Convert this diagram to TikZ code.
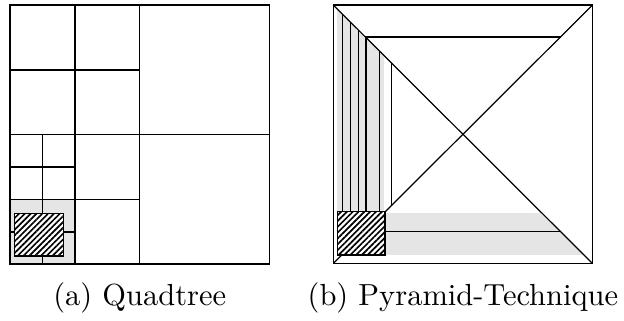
\documentclass[tikz,border=0pt]{standalone}
\usepackage{amsmath}
\usepackage{tikz}
\usetikzlibrary{patterns.meta}

\begin{document}
\begin{tikzpicture}[x=0.328pt,y=-0.328pt,
            region/.style={fill=gray!20},
            query/.style={draw,fill=white,postaction={pattern={Lines[angle=45,distance=1.35pt,line width=0.55pt]}}}]
            \useasboundingbox (0,0) rectangle (624,320);
            % quadtree
            \fill[region] (10,199.75) rectangle (74.9,264);
            \draw (10,5) rectangle (269.5,264);
            \draw (139.75,5)--(139.75,264);
            \draw (10,134.5)--(269.5,134.5);
            \draw (74.9,5)--(74.9,264);
            \draw (10,70)--(139.75,70);
            \draw (10,199.75)--(139.75,199.75);
            \draw (42.4,134.5)--(42.4,264);
            \draw (10,167.1)--(74.9,167.1);
            \draw (10,231.9)--(74.9,231.9);
            \draw[query] (14.3,213.3) rectangle (63.3,256);
            \node[anchor=base] (capa) at (139.75,305) {(a) Quadtree};
            % pyramid-technique
            \begin{scope}
                \clip (333.3,5)--(463,134.3)--(333.3,263.5)--cycle;
                \fill[region] (337.3,5) rectangle (384,212);
            \end{scope}
            \begin{scope}
                \clip (333.3,263.5)--(463,134.3)--(592.5,263.5)--cycle;
                \fill[region] (385,213.3) rectangle (592.5,255);
            \end{scope}
            \draw (333.3,5) rectangle (592.5,263.5);
            \draw (333.3,5)--(592.5,263.5);
            \draw (333.3,263.5)--(592.5,5);
            \draw (365.3,37)--(560.5,37);
            \draw (342.7,14.4)--(342.7,254.1);
            \draw (350.7,22.4)--(350.7,246.1);
            \draw (358.3,30)--(358.3,238.5);
            \draw (366,37.7)--(366,230.8);
            \draw (379.3,51)--(379.3,217.5);
            \draw (391.7,63.4)--(391.7,205.1);
            \draw (365.1,231.7)--(560.7,231.7);
            \draw[query] (337.3,211.7) rectangle (385,255);
            \node[anchor=base] (capb) at (462.9,305) {(b) Pyramid-Technique};
        \end{tikzpicture}
\end{document}
